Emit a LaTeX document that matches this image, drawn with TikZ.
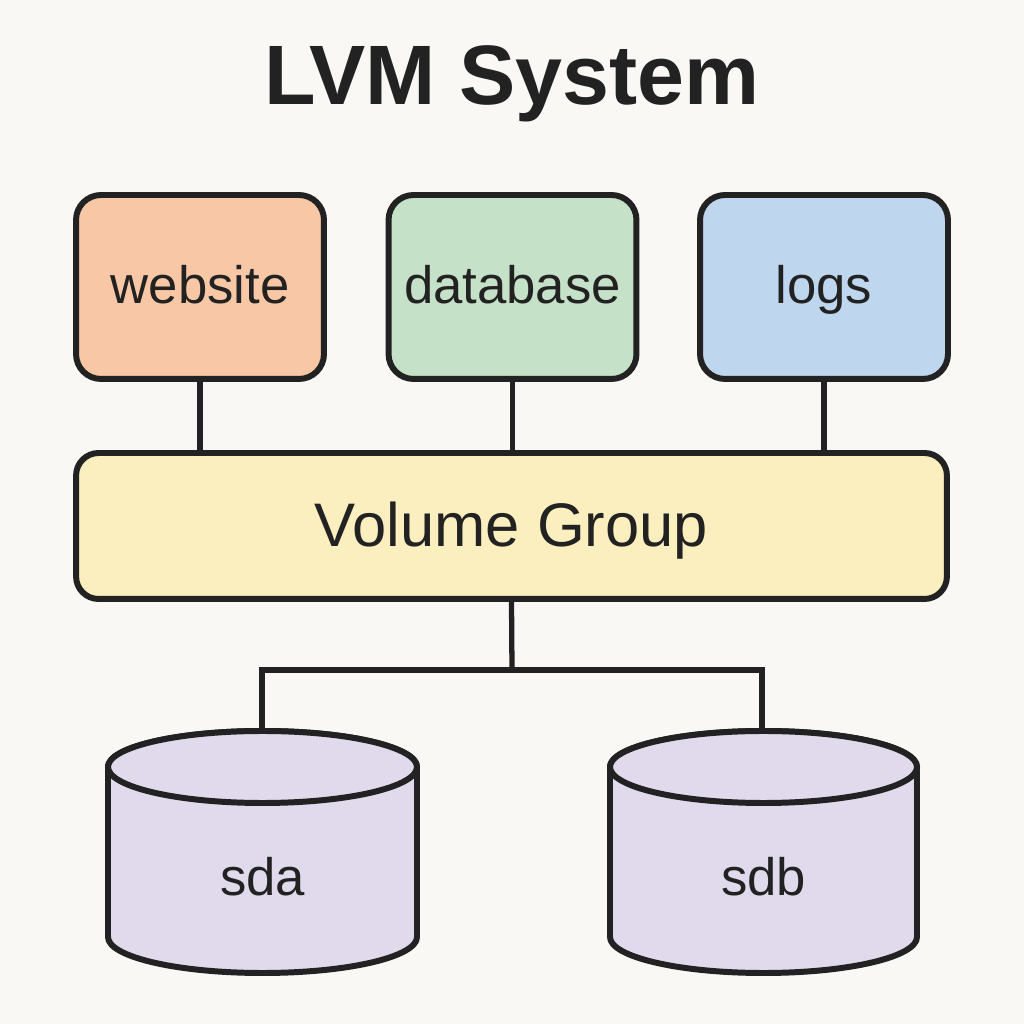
\documentclass[tikz,border=0pt]{standalone}
\usepackage{fontspec}
\setmainfont{Liberation Sans}
\usetikzlibrary{positioning}
\definecolor{inkline}{HTML}{222222}
\definecolor{paper}{HTML}{F9F8F5}
\definecolor{webfill}{HTML}{F8C8A6}
\definecolor{dbfill}{HTML}{C5E1C8}
\definecolor{logfill}{HTML}{BED6EE}
\definecolor{vgfill}{HTML}{FBEFBF}
\definecolor{diskfill}{HTML}{E1DAEC}
\tikzset{
  lvbox/.style={draw=inkline, line width=3.4pt, rounded corners=0.5cm,
    minimum width=4.96cm, minimum height=3.68cm, text=inkline,
    font=\fontsize{30}{36}\selectfont, text height=21.6pt, text depth=2.4pt},
  vgbox/.style={draw=inkline, line width=3.4pt, fill=vgfill, rounded corners=0.45cm,
    minimum width=17.42cm, minimum height=2.92cm, text=inkline,
    font=\fontsize{35}{42}\selectfont, text height=25.2pt, text depth=1.4pt},
  disk/.style={draw=inkline, line width=3.4pt, fill=diskfill},
  link/.style={draw=inkline, line width=3pt},
  label/.style={font=\fontsize{30}{36}\selectfont, text=inkline}
}
\begin{document}
\begin{tikzpicture}[x=0.02cm, y=0.02cm]
  \fill[paper] (0,0) rectangle (1024,1024);
  \useasboundingbox (0,0) rectangle (1024,1024);
  % title
  \node[anchor=base, text=inkline, font=\bfseries\fontsize{48}{56}\selectfont] (title) at (512,919) {LVM System};
  % logical volumes
  \node[lvbox, fill=webfill] (web) at (200,737) {website};
  \node[lvbox, fill=dbfill] (db) at (512.5,737) {database};
  \node[lvbox, fill=logfill] (logs) at (824,737) {logs};
  % volume group
  \node[vgbox] (vg) at (511.5,498) {Volume Group};
  \draw[link] (web.south) -- (web.south |- vg.north);
  \draw[link] (db.south) -- (db.south |- vg.north);
  \draw[link] (logs.south) -- (logs.south |- vg.north);
  % physical disks
  \draw[disk] (108,257) -- (108,87) arc[start angle=180, end angle=360, x radius=154.5, y radius=36]
    -- (417,257) arc[start angle=0, end angle=180, x radius=154.5, y radius=36] -- cycle;
  \draw[disk] (262.5,257) ellipse [x radius=154.5, y radius=36];
  \draw[disk] (610,257) -- (610,87) arc[start angle=180, end angle=360, x radius=153.5, y radius=36]
    -- (917,257) arc[start angle=0, end angle=180, x radius=153.5, y radius=36] -- cycle;
  \draw[disk] (763.5,257) ellipse [x radius=153.5, y radius=36];
  \node[label] (sda) at (262.5,147) {sda};
  \node[label] (sdb) at (763.5,147) {sdb};
  \coordinate (sdatop) at (262,293);
  \coordinate (sdbtop) at (762,293);
  \coordinate (split) at (512,354);
  \draw[link] (vg.south) -- (split);
  \draw[link] (sdatop) |- (split) -| (sdbtop);
\end{tikzpicture}
\end{document}
